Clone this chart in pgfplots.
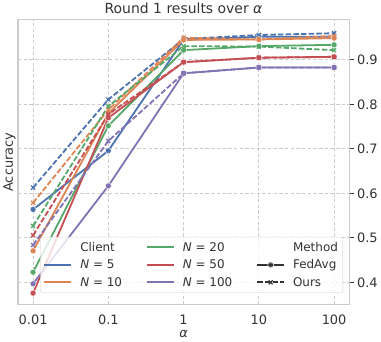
\documentclass[border=0pt]{standalone}
\usepackage{pgfplots}
\pgfplotsset{compat=1.18}
\usepackage{fontspec}
\setmainfont{DejaVu Sans}

\definecolor{sbblue}{HTML}{4C72B0}
\definecolor{sborange}{HTML}{DD8452}
\definecolor{sbgreen}{HTML}{55A868}
\definecolor{sbred}{HTML}{C44E52}
\definecolor{sbpurple}{HTML}{8172B3}
\definecolor{gridgray}{HTML}{CCCCCC}
\definecolor{dk}{HTML}{333333}

\pgfplotsset{
  fedavg/.style={#1, line width=1.8pt, mark=*, mark size=3pt,
    mark options={solid, fill=#1, draw=white, line width=0.4pt}},
  ours/.style={#1, line width=1.8pt, dash pattern=on 5.5pt off 2.2pt, mark=x, mark size=2.8pt,
    mark options={solid, line width=1.3pt}},
}

\begin{document}
\begin{tikzpicture}
\begin{axis}[
  scale only axis, width=331bp, height=285bp,
  xmode=log, xmin=0.0063, xmax=158,
  ymin=0.35, ymax=0.9906,
  xtick={0.01,0.1,1,10,100}, xticklabels={0.01,0.1,1,10,100},
  ytick={0.4,0.5,0.6,0.7,0.8,0.9},
  yticklabel pos=right, ytick pos=right,
  xtick style={draw=none},
  ytick style={draw=dk, line width=0.9pt},
  tick align=outside, major tick length=4.5bp,
  /pgf/number format/assume math mode=true,
  ticklabel style={font=\fontsize{13}{15}\selectfont, text=dk},
  xticklabel style={yshift=-2bp},
  grid=major,
  major grid style={gridgray, dash pattern=on 3.5pt off 2.2pt, line width=0.9pt},
  axis line style={gridgray, line width=1.1pt},
  title={Round 1 results over \textit{α}},
  title style={font=\fontsize{14}{16}\selectfont, text=dk, yshift=-4bp},
  xlabel={\textit{α}},
  ylabel={Accuracy},
  xlabel style={font=\fontsize{13}{15}\selectfont, text=dk, yshift=1bp},
  every axis y label/.style={at={(axis description cs:0,0.5)}, rotate=90, anchor=south,
    yshift=-1bp, font=\fontsize{13}{15}\selectfont, text=dk},
  legend columns=3,
  legend cell align=left,
  legend image code/.code={\draw[mark repeat=2, mark phase=2, #1] plot coordinates {(0bp,0bp)(13.5bp,0bp)(27bp,0bp)};},
  legend style={at={(0.982,0.042)}, anchor=south east, fill=white, fill opacity=0.8,
    text opacity=1, draw=gridgray, rounded corners=2bp,
    font=\fontsize{12}{14}\selectfont, text=dk, row sep=3bp, inner sep=3bp,
    /tikz/every odd column/.append style={column sep=6bp},
    /tikz/every even column/.append style={column sep=22bp}},
]
% N = 5
\addplot[fedavg=sbblue, forget plot] coordinates {(0.01,0.564)(0.1,0.696)(1,0.945)(10,0.952)(100,0.952)};
\addplot[ours=sbblue, forget plot] coordinates {(0.01,0.613)(0.1,0.811)(1,0.947)(10,0.956)(100,0.960)};
% N = 10
\addplot[fedavg=sborange, forget plot] coordinates {(0.01,0.471)(0.1,0.780)(1,0.945)(10,0.946)(100,0.949)};
\addplot[ours=sborange, forget plot] coordinates {(0.01,0.579)(0.1,0.788)(1,0.950)(10,0.946)(100,0.954)};
% N = 20
\addplot[fedavg=sbgreen, forget plot] coordinates {(0.01,0.423)(0.1,0.752)(1,0.922)(10,0.931)(100,0.934)};
\addplot[ours=sbgreen, forget plot] coordinates {(0.01,0.527)(0.1,0.796)(1,0.931)(10,0.930)(100,0.922)};
% N = 50
\addplot[fedavg=sbred, forget plot] coordinates {(0.01,0.376)(0.1,0.770)(1,0.895)(10,0.905)(100,0.907)};
\addplot[ours=sbred, forget plot] coordinates {(0.01,0.506)(0.1,0.778)(1,0.895)(10,0.905)(100,0.907)};
% N = 100
\addplot[fedavg=sbpurple, forget plot] coordinates {(0.01,0.397)(0.1,0.617)(1,0.870)(10,0.883)(100,0.883)};
\addplot[ours=sbpurple, forget plot] coordinates {(0.01,0.484)(0.1,0.718)(1,0.870)(10,0.883)(100,0.883)};

\addlegendimage{empty legend}\addlegendentry{Client}
\addlegendimage{sbgreen, line width=1.8pt}\addlegendentry{\textit{N} = 20}
\addlegendimage{empty legend}\addlegendentry{Method}
\addlegendimage{sbblue, line width=1.8pt}\addlegendentry{\textit{N} = 5}
\addlegendimage{sbred, line width=1.8pt}\addlegendentry{\textit{N} = 50}
\addlegendimage{fedavg=dk}\addlegendentry{FedAvg}
\addlegendimage{sborange, line width=1.8pt}\addlegendentry{\textit{N} = 10}
\addlegendimage{sbpurple, line width=1.8pt}\addlegendentry{\textit{N} = 100}
\addlegendimage{ours=dk}\addlegendentry{Ours}
\end{axis}
\end{tikzpicture}
\end{document}
